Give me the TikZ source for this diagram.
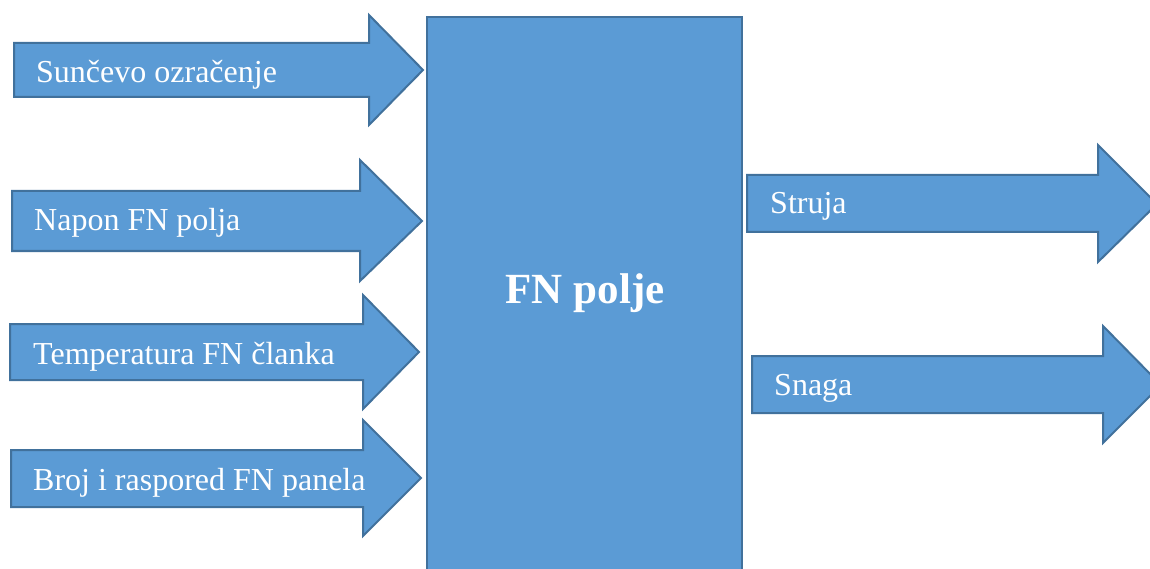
\documentclass[tikz,border=0pt]{standalone}
\usepackage{fontspec}
\setmainfont{Liberation Serif}
\definecolor{fillblue}{HTML}{5B9BD5}
\definecolor{edgeblue}{HTML}{41719C}
\tikzset{
  shapebox/.style={fill=fillblue, draw=edgeblue, line width=2pt, line join=miter},
  lbl/.style={anchor=base west, inner sep=0pt, text=white, font=\fontsize{32}{37}\selectfont},
  biglbl/.style={anchor=base, inner sep=0pt, text=white, font=\fontsize{43}{50}\selectfont\bfseries}
}
\begin{document}
\begin{tikzpicture}[x=1pt,y=-1pt]
\useasboundingbox (0,0) rectangle (1150,569);
\clip (0,0) rectangle (1150,569);
% input arrows
\path[shapebox] (14,43) -- (369,43) -- (369,15) -- (423,70) -- (369,125) -- (369,97) -- (14,97) -- cycle;
\path[shapebox] (12,191) -- (360,191) -- (360,160) -- (422,221) -- (360,281) -- (360,251) -- (12,251) -- cycle;
\path[shapebox] (10,324) -- (363,324) -- (363,295) -- (419,352) -- (363,409) -- (363,380) -- (10,380) -- cycle;
\path[shapebox] (11,450) -- (363,450) -- (363,420) -- (421,478) -- (363,536) -- (363,507) -- (11,507) -- cycle;
% main block
\path[shapebox] (427,17) rectangle (742,590);
% output arrows
\path[shapebox] (747,175) -- (1098,175) -- (1098,145) -- (1157,204) -- (1098,262) -- (1098,232) -- (747,232) -- cycle;
\path[shapebox] (752,356) -- (1103,356) -- (1103,326) -- (1161,385) -- (1103,443) -- (1103,413) -- (752,413) -- cycle;
% labels
\node[lbl] (t1) at (36,83) {Sunčevo ozračenje};
\node[lbl] (t2) at (34,231) {Napon FN polja};
\node[lbl] (t3) at (33,364) {Temperatura FN članka};
\node[lbl] (t4) at (33,490) {Broj i raspored FN panela};
\node[biglbl] (fn) at (585,303) {FN polje};
\node[lbl] (o1) at (770,214) {Struja};
\node[lbl] (o2) at (774,395) {Snaga};
\end{tikzpicture}
\end{document}
